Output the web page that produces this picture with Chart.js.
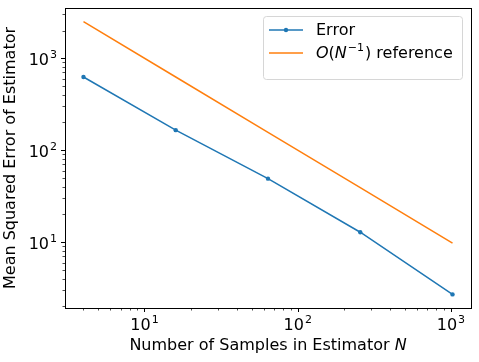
<!DOCTYPE html>
<html>
<head>
<meta charset="utf-8">
<script src="https://cdn.jsdelivr.net/npm/chart.js@4/dist/chart.umd.min.js"></script>
<style>
  html, body { margin:0; padding:0; background:#fff; }
  #wrap { width:479px; height:362px; }
</style>
</head>
<body>
<div id="wrap"><canvas id="mse-chart" width="479" height="362"></canvas></div>
<script>
// data
const sampleSizes = [4, 16, 64, 256, 1024];
const errorValues = [625, 165, 49, 12.8, 2.7];
const referenceValues = [2500, 625, 156.25, 39.06, 9.77];
const xTickPowers = [1, 2, 3];
const yTickPowers = [1, 2, 3];
const seriesLabels = ['Error', 'reference'];

const FONT = '"DejaVu Sans", sans-serif';
const FS = 16;   // main font size
const SUP = 11;  // superscript size
const BLUE = '#1f77b4';
const ORANGE = '#ff7f0e';

function toPoints(xs, ys){
  let pts = [];
  for(let i = 0; i < xs.length; i++){
    pts.push({x: xs[i], y: ys[i]});
  }
  return pts;
}

// "10" with a superscript exponent, like matplotlib mathtext
function drawPow(ctx, x, y, exp, align){
  ctx.font = FS + 'px ' + FONT;
  const w1 = ctx.measureText('10').width;
  ctx.font = SUP + 'px ' + FONT;
  const w2 = ctx.measureText(String(exp)).width;
  const total = w1 + w2 + 1;
  let start = x;
  if(align == 'center') start = x - total / 2;
  if(align == 'right') start = x - total;
  ctx.textAlign = 'left';
  ctx.textBaseline = 'alphabetic';
  ctx.font = FS + 'px ' + FONT;
  ctx.fillText('10', start, y);
  ctx.font = SUP + 'px ' + FONT;
  ctx.fillText(String(exp), start + w1 + 1, y - 7);
}

function minorValues(min, max){
  let out = [];
  for(let e = -1; e <= 4; e++){
    for(let m = 2; m <= 9; m++){
      const v = m * Math.pow(10, e);
      if(v > min && v < max) out.push(v);
    }
  }
  return out;
}

const axesDecor = {
  id: 'axesDecor',
  afterDraw(chart){
    const {ctx, chartArea:{left, right, top, bottom, width, height}} = chart;
    const xs = chart.scales.x;
    const ys = chart.scales.y;
    ctx.save();

    // frame
    ctx.strokeStyle = '#000';
    ctx.lineWidth = 1;
    ctx.strokeRect(Math.round(left) + 0.5, Math.round(top) + 0.5, Math.round(width), Math.round(height));

    // ticks
    ctx.beginPath();
    xTickPowers.forEach(p => {
      const px = Math.round(xs.getPixelForValue(Math.pow(10, p))) + 0.5;
      ctx.moveTo(px, bottom); ctx.lineTo(px, bottom + 4);
    });
    yTickPowers.forEach(p => {
      const py = Math.round(ys.getPixelForValue(Math.pow(10, p))) + 0.5;
      ctx.moveTo(left, py); ctx.lineTo(left - 4, py);
    });
    ctx.stroke();
    ctx.beginPath();
    ctx.lineWidth = 0.7;
    minorValues(xs.min, xs.max).forEach(v => {
      const px = Math.round(xs.getPixelForValue(v)) + 0.5;
      ctx.moveTo(px, bottom); ctx.lineTo(px, bottom + 2.5);
    });
    minorValues(ys.min, ys.max).forEach(v => {
      const py = Math.round(ys.getPixelForValue(v)) + 0.5;
      ctx.moveTo(left, py); ctx.lineTo(left - 2.5, py);
    });
    ctx.stroke();

    // tick labels
    ctx.fillStyle = '#000';
    xTickPowers.forEach(p => {
      drawPow(ctx, xs.getPixelForValue(Math.pow(10, p)), bottom + 22, p, 'center');
    });
    yTickPowers.forEach(p => {
      drawPow(ctx, left - 8, ys.getPixelForValue(Math.pow(10, p)) + 7, p, 'right');
    });

    // axis titles
    ctx.textAlign = 'left';
    ctx.textBaseline = 'alphabetic';
    const t1 = 'Number of Samples in Estimator ';
    ctx.font = FS + 'px ' + FONT;
    const w1 = ctx.measureText(t1).width;
    ctx.font = 'italic ' + FS + 'px ' + FONT;
    const w2 = ctx.measureText('N').width;
    let sx = (left + right) / 2 - (w1 + w2) / 2;
    ctx.font = FS + 'px ' + FONT;
    ctx.fillText(t1, sx, bottom + 42);
    ctx.font = 'italic ' + FS + 'px ' + FONT;
    ctx.fillText('N', sx + w1, bottom + 42);

    ctx.save();
    ctx.translate(15, (top + bottom) / 2);
    ctx.rotate(-Math.PI / 2);
    ctx.font = FS + 'px ' + FONT;
    ctx.textAlign = 'center';
    ctx.fillText('Mean Squared Error of Estimator', 0, 0);
    ctx.restore();

    // legend
    const lx = 263, ly = 16, lw = 199, lh = 63;
    ctx.beginPath();
    ctx.roundRect(lx + 0.5, ly + 0.5, lw, lh, 3);
    ctx.fillStyle = 'rgba(255,255,255,0.8)';
    ctx.fill();
    ctx.strokeStyle = '#d6d6d6';
    ctx.lineWidth = 1;
    ctx.stroke();

    const rows = [ly + 14, ly + 37];
    ctx.lineWidth = 1.5;
    ctx.strokeStyle = BLUE;
    ctx.beginPath(); ctx.moveTo(lx + 6, rows[0]); ctx.lineTo(lx + 40, rows[0]); ctx.stroke();
    ctx.fillStyle = BLUE;
    ctx.beginPath(); ctx.arc(lx + 23, rows[0], 2.2, 0, Math.PI * 2); ctx.fill();
    ctx.strokeStyle = ORANGE;
    ctx.beginPath(); ctx.moveTo(lx + 6, rows[1]); ctx.lineTo(lx + 40, rows[1]); ctx.stroke();

    ctx.fillStyle = '#000';
    ctx.textAlign = 'left';
    ctx.textBaseline = 'alphabetic';
    const tx = lx + 53;
    ctx.font = FS + 'px ' + FONT;
    ctx.fillText(seriesLabels[0], tx, rows[0] + 5);
    // O(N^-1) reference
    let cx = tx;
    const base = rows[1] + 5;
    ctx.font = 'italic ' + FS + 'px ' + FONT;
    ctx.fillText('O', cx, base); cx += ctx.measureText('O').width;
    ctx.font = FS + 'px ' + FONT;
    ctx.fillText('(', cx, base); cx += ctx.measureText('(').width;
    ctx.font = 'italic ' + FS + 'px ' + FONT;
    ctx.fillText('N', cx, base); cx += ctx.measureText('N').width + 1;
    ctx.font = SUP + 'px ' + FONT;
    ctx.fillText('\u22121', cx, base - 7); cx += ctx.measureText('\u22121').width + 1;
    ctx.font = FS + 'px ' + FONT;
    ctx.fillText(') ' + seriesLabels[1], cx, base);

    ctx.restore();
  }
};

const ctx = document.getElementById('mse-chart');

const config = {
  type: 'scatter',
  data: {
    datasets: [{
      label: seriesLabels[0],
      data: toPoints(sampleSizes, errorValues),
      showLine: true,
      borderColor: BLUE,
      backgroundColor: BLUE,
      borderWidth: 1.5,
      pointRadius: 2.2,
      pointBorderWidth: 0
    },{
      label: 'O(N^-1) ' + seriesLabels[1],
      data: toPoints(sampleSizes, referenceValues),
      showLine: true,
      borderColor: ORANGE,
      backgroundColor: ORANGE,
      borderWidth: 1.5,
      pointRadius: 0
    }]
  },
  options: {
    responsive: false,
    animation: false,
    layout: {
      padding: { left: 65, top: 8, right: 8, bottom: 54 }
    },
    plugins: {
      legend: { display: false },
      tooltip: { enabled: false }
    },
    scales: {
      x: {
        type: 'logarithmic',
        display: false,
        min: 3.03,
        max: 1352
      },
      y: {
        type: 'logarithmic',
        display: false,
        min: 1.92,
        max: 3517
      }
    }
  },
  plugins: [axesDecor]
};

const myChart = new Chart(ctx, config);
</script>
</body>
</html>
